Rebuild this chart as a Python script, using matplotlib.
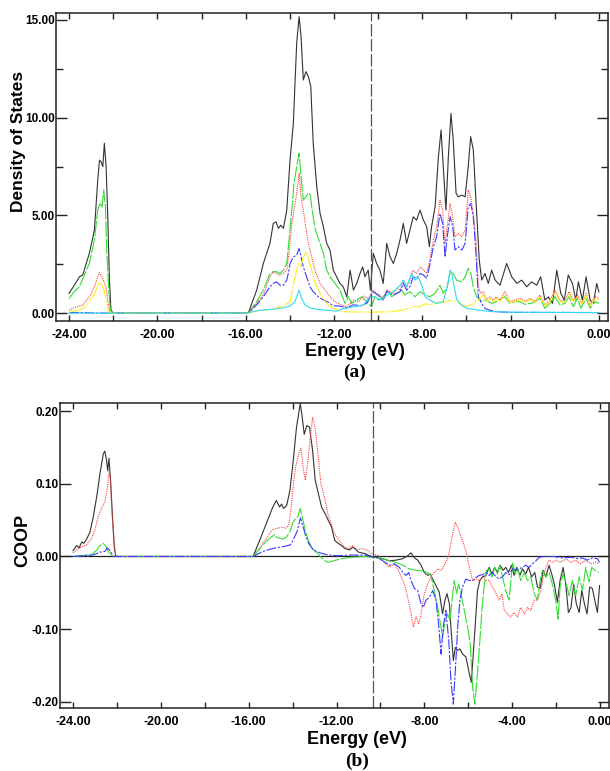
import matplotlib
matplotlib.use("Agg")
import matplotlib.pyplot as plt
from matplotlib.ticker import MultipleLocator, FormatStrFormatter

# ---------------------------------------------------------------------------
# Data, (energy in eV, value) pairs
# ---------------------------------------------------------------------------
fermi_level = -10.32

# (a) density of states
dos_total = [
    (-24.0, 1.01), (-23.76, 1.43), (-23.53, 1.86), (-23.38, 1.95), (-23.08, 3.06), (-22.85, 4.25),
    (-22.70, 6.81), (-22.62, 7.83), (-22.55, 7.75), (-22.47, 7.49), (-22.40, 8.69), (-22.32, 7.49),
    (-22.25, 5.10), (-22.17, 1.70), (-22.10, 0.15), (-22.0, 0.0), (-16.0, 0.0), (-15.88, 0.0),
    (-15.5, 1.18), (-15.2, 2.54), (-14.9, 3.57), (-14.75, 4.59), (-14.62, 4.67), (-14.52, 4.34),
    (-14.41, 4.50), (-14.29, 4.34), (-14.14, 5.27), (-13.99, 7.83), (-13.84, 9.71), (-13.69, 13.8),
    (-13.58, 15.17), (-13.49, 14.15), (-13.39, 11.93), (-13.27, 12.36), (-13.16, 12.10), (-13.05, 11.59),
    (-12.94, 8.69), (-12.78, 6.47), (-12.63, 5.10), (-12.48, 4.42), (-12.33, 3.57), (-12.18, 3.23),
    (-12.03, 2.20), (-11.88, 1.86), (-11.73, 1.52), (-11.58, 1.35), (-11.42, 0.83), (-11.27, 2.20),
    (-11.12, 1.18), (-10.97, 1.52), (-10.82, 2.03), (-10.70, 2.37), (-10.60, 1.86), (-10.45, 2.20),
    (-10.35, 1.18), (-10.22, 3.06), (-10.07, 2.54), (-9.92, 2.20), (-9.77, 1.52), (-9.61, 3.57),
    (-9.46, 2.88), (-9.31, 2.54), (-9.16, 3.06), (-9.01, 3.74), (-8.86, 4.59), (-8.71, 3.57),
    (-8.56, 4.25), (-8.41, 4.93), (-8.26, 4.76), (-8.10, 5.27), (-7.95, 4.76), (-7.80, 4.42),
    (-7.68, 3.40), (-7.58, 4.42), (-7.42, 5.44), (-7.27, 8.00), (-7.15, 9.37), (-7.05, 7.49),
    (-6.93, 5.27), (-6.82, 8.00), (-6.70, 10.22), (-6.60, 8.86), (-6.47, 6.13), (-6.37, 5.95),
    (-6.21, 6.04), (-6.06, 5.95), (-5.92, 7.49), (-5.81, 9.03), (-5.69, 8.35), (-5.57, 5.78),
    (-5.42, 2.71), (-5.31, 1.69), (-5.16, 2.03), (-5.01, 1.52), (-4.86, 2.20), (-4.70, 1.69),
    (-4.48, 1.43), (-4.18, 2.54), (-3.95, 1.86), (-3.72, 1.52), (-3.50, 1.69), (-3.27, 1.35),
    (-3.05, 1.60), (-2.82, 1.43), (-2.64, 1.86), (-2.45, 0.67), (-2.29, 0.83), (-2.10, 0.50),
    (-1.91, 2.20), (-1.73, 1.02), (-1.57, 0.67), (-1.39, 1.95), (-1.20, 1.52), (-1.05, 0.67),
    (-0.93, 1.60), (-0.75, 0.67), (-0.58, 1.86), (-0.40, 0.67), (-0.25, 0.50), (-0.10, 1.52),
    (0.0, 1.09),
]
dos_green = [
    (-24.0, 0.75), (-23.76, 1.10), (-23.53, 1.35), (-23.08, 2.54), (-22.85, 3.74), (-22.70, 5.27),
    (-22.60, 5.63), (-22.50, 5.44), (-22.43, 6.30), (-22.35, 5.44), (-22.30, 3.40), (-22.20, 1.18),
    (-22.13, 0.15), (-22.0, 0.0), (-16.0, 0.0), (-15.88, 0.0), (-15.5, 0.60), (-15.2, 1.18),
    (-14.9, 2.03), (-14.75, 2.12), (-14.6, 2.12), (-14.45, 2.03), (-14.29, 2.20), (-14.14, 2.54),
    (-14.02, 3.91), (-13.91, 5.27), (-13.81, 6.64), (-13.69, 7.49), (-13.58, 8.18), (-13.49, 6.98),
    (-13.39, 5.78), (-13.27, 5.95), (-13.16, 6.16), (-13.07, 6.04), (-12.99, 5.27), (-12.84, 4.25),
    (-12.63, 3.57), (-12.48, 3.06), (-12.33, 2.20), (-12.18, 1.86), (-11.95, 1.52), (-11.73, 1.18),
    (-11.5, 0.50), (-11.35, 0.84), (-11.2, 0.50), (-10.97, 0.67), (-10.75, 0.84), (-10.52, 0.60),
    (-10.3, 0.33), (-10.15, 0.84), (-10.0, 0.67), (-9.77, 0.84), (-9.54, 1.18), (-9.39, 0.84),
    (-9.16, 1.01), (-8.93, 1.18), (-8.78, 0.93), (-8.56, 1.10), (-8.33, 0.84), (-8.1, 1.10),
    (-7.87, 0.93), (-7.66, 0.84), (-7.42, 1.01), (-7.2, 1.43), (-7.05, 1.01), (-6.87, 1.35),
    (-6.74, 2.10), (-6.6, 2.03), (-6.45, 1.69), (-6.21, 1.60), (-6.06, 1.86), (-5.92, 2.29),
    (-5.8, 2.03), (-5.69, 1.35), (-5.54, 0.84), (-5.31, 0.60), (-5.1, 0.67), (-4.86, 0.50),
    (-4.64, 0.60), (-4.26, 0.84), (-4.03, 0.50), (-3.8, 0.60), (-3.57, 0.58), (-3.35, 0.45),
    (-3.12, 0.50), (-2.9, 0.55), (-2.67, 0.76), (-2.45, 0.25), (-2.22, 0.50), (-1.99, 0.84),
    (-1.76, 0.42), (-1.54, 0.50), (-1.36, 0.84), (-1.16, 0.33), (-0.97, 0.76), (-0.82, 0.25),
    (-0.58, 0.76), (-0.4, 0.25), (-0.17, 0.58), (0.0, 0.50),
]
dos_red = [
    (-24.0, 0.15), (-23.68, 0.32), (-23.38, 0.41), (-23.08, 0.83), (-22.85, 1.35), (-22.70, 1.86),
    (-22.62, 2.07), (-22.50, 1.86), (-22.40, 1.55), (-22.32, 1.35), (-22.25, 0.67), (-22.15, 0.10),
    (-22.0, 0.0), (-16.0, 0.0), (-15.88, 0.0), (-15.5, 0.50), (-15.2, 0.93), (-14.9, 1.86),
    (-14.75, 2.12), (-14.6, 2.03), (-14.45, 1.95), (-14.29, 2.03), (-14.14, 2.20), (-14.02, 3.23),
    (-13.91, 4.59), (-13.81, 5.27), (-13.69, 6.13), (-13.58, 7.15), (-13.49, 5.95), (-13.39, 5.27),
    (-13.28, 4.42), (-13.16, 3.57), (-13.01, 2.88), (-12.86, 2.20), (-12.63, 1.52), (-12.4, 1.18),
    (-12.18, 0.84), (-11.95, 0.58), (-11.65, 0.41), (-11.42, 0.33), (-11.12, 0.67), (-10.9, 0.58),
    (-10.67, 0.87), (-10.45, 0.75), (-10.22, 1.18), (-10.07, 1.01), (-9.92, 0.93), (-9.77, 0.67),
    (-9.61, 1.18), (-9.46, 1.10), (-9.31, 1.01), (-9.16, 1.26), (-9.0, 1.18), (-8.86, 1.69),
    (-8.71, 1.35), (-8.56, 1.69), (-8.41, 2.20), (-8.26, 2.03), (-8.1, 2.37), (-7.95, 2.20),
    (-7.8, 2.03), (-7.66, 2.71), (-7.5, 3.74), (-7.35, 4.42), (-7.2, 5.78), (-7.08, 5.27),
    (-6.97, 3.57), (-6.85, 4.59), (-6.74, 5.61), (-6.62, 4.93), (-6.52, 3.91), (-6.37, 4.08),
    (-6.21, 3.91), (-6.06, 4.25), (-5.92, 6.30), (-5.81, 5.95), (-5.69, 5.10), (-5.57, 3.74),
    (-5.46, 1.35), (-5.36, 1.01), (-5.24, 1.10), (-5.1, 0.67), (-4.94, 0.84), (-4.8, 0.67),
    (-4.64, 0.84), (-4.48, 0.67), (-4.26, 1.10), (-4.03, 0.60), (-3.8, 0.67), (-3.57, 0.76),
    (-3.35, 0.60), (-3.12, 0.76), (-2.9, 0.60), (-2.67, 0.93), (-2.45, 0.42), (-2.22, 0.67),
    (-1.99, 1.18), (-1.76, 0.67), (-1.54, 0.60), (-1.36, 1.10), (-1.16, 0.67), (-0.97, 0.93),
    (-0.78, 0.50), (-0.58, 1.01), (-0.4, 0.42), (-0.17, 0.84), (0.0, 0.76),
]
dos_blue = [
    (-24.0, 0.03), (-23.4, 0.03), (-23.0, 0.01), (-22.2, 0.0), (-16.0, 0.0), (-15.88, 0.0),
    (-15.5, 0.43), (-15.2, 0.84), (-14.9, 1.35), (-14.75, 1.52), (-14.6, 1.60), (-14.45, 1.43),
    (-14.29, 1.43), (-14.14, 1.69), (-14.07, 2.03), (-13.99, 2.54), (-13.84, 2.88), (-13.69, 2.97),
    (-13.58, 3.31), (-13.49, 2.88), (-13.39, 2.37), (-13.24, 1.86), (-13.09, 1.35), (-12.94, 1.10),
    (-12.71, 0.84), (-12.48, 0.67), (-12.25, 0.55), (-12.03, 0.38), (-11.73, 0.36), (-11.42, 0.27),
    (-11.12, 0.43), (-10.82, 0.38), (-10.52, 0.50), (-10.22, 1.10), (-9.92, 0.84), (-9.77, 0.67),
    (-9.61, 1.10), (-9.31, 0.93), (-9.0, 1.10), (-8.86, 1.52), (-8.71, 1.18), (-8.56, 1.35),
    (-8.41, 1.86), (-8.26, 1.78), (-8.1, 2.03), (-7.95, 1.95), (-7.8, 1.78), (-7.66, 2.46),
    (-7.5, 3.40), (-7.35, 3.91), (-7.2, 5.10), (-7.08, 4.59), (-6.97, 2.88), (-6.85, 4.08),
    (-6.74, 4.93), (-6.62, 4.42), (-6.52, 3.23), (-6.37, 3.40), (-6.21, 3.23), (-6.06, 3.57),
    (-5.92, 5.44), (-5.81, 5.61), (-5.69, 4.93), (-5.57, 3.06), (-5.46, 0.84), (-5.31, 0.50),
    (-5.16, 0.24), (-4.94, 0.15), (-4.64, 0.07), (-4.0, 0.04), (0.0, 0.03),
]
dos_yellow = [
    (-24.0, 0.05), (-23.38, 0.22), (-23.08, 0.58), (-22.85, 0.98), (-22.70, 1.40), (-22.62, 1.60),
    (-22.50, 1.40), (-22.40, 1.15), (-22.30, 0.50), (-22.17, 0.0), (-16.0, 0.0), (-15.88, 0.0),
    (-15.35, 0.15), (-14.75, 0.20), (-14.29, 0.36), (-13.99, 0.60), (-13.76, 1.86), (-13.61, 2.54),
    (-13.49, 2.37), (-13.39, 2.88), (-13.24, 3.14), (-13.09, 2.54), (-12.94, 1.86), (-12.78, 1.35),
    (-12.55, 0.84), (-12.33, 0.50), (-12.03, 0.24), (-11.58, 0.07), (-10.5, 0.05), (-9.5, 0.07),
    (-8.86, 0.15), (-8.41, 0.33), (-8.1, 0.33), (-7.87, 0.48), (-7.66, 0.42), (-7.2, 0.58),
    (-7.0, 0.53), (-6.74, 0.67), (-6.52, 0.60), (-6.3, 0.48), (-5.99, 0.33), (-5.69, 0.50),
    (-5.46, 0.67), (-5.24, 0.95), (-5.1, 0.60), (-4.94, 0.75), (-4.8, 0.60), (-4.64, 0.75),
    (-4.48, 0.60), (-4.26, 1.00), (-4.03, 0.55), (-3.8, 0.60), (-3.57, 0.70), (-3.35, 0.55),
    (-3.12, 0.70), (-2.9, 0.55), (-2.67, 0.85), (-2.45, 0.38), (-2.22, 0.60), (-1.99, 1.08),
    (-1.76, 0.60), (-1.54, 0.55), (-1.36, 1.00), (-1.16, 0.60), (-0.97, 0.85), (-0.78, 0.45),
    (-0.58, 0.92), (-0.4, 0.38), (-0.17, 0.75), (0.0, 0.70),
]
dos_cyan = [
    (-24.0, 0.0), (-16.0, 0.0), (-15.35, 0.15), (-14.75, 0.20), (-14.29, 0.27), (-13.99, 0.36),
    (-13.76, 0.60), (-13.58, 1.19), (-13.47, 0.77), (-13.32, 0.43), (-13.09, 0.27), (-12.78, 0.20),
    (-12.33, 0.15), (-11.88, 0.10), (-11.58, 0.24), (-11.2, 0.30), (-10.67, 0.41), (-10.37, 0.84),
    (-10.15, 0.84), (-9.92, 0.67), (-9.7, 0.84), (-9.46, 1.01), (-9.23, 1.18), (-9.0, 1.43),
    (-8.86, 1.69), (-8.71, 1.35), (-8.48, 2.03), (-8.33, 1.69), (-8.18, 1.86), (-8.03, 1.43),
    (-7.87, 0.84), (-7.66, 0.67), (-7.35, 0.50), (-7.05, 0.58), (-6.87, 1.35), (-6.74, 2.20),
    (-6.67, 2.03), (-6.56, 1.35), (-6.43, 0.67), (-6.23, 0.42), (-6.0, 0.25), (-5.54, 0.17),
    (-4.94, 0.08), (-4.0, 0.05), (0.0, 0.03),
]

# (b) crystal orbital overlap population
coop_total = [
    (-24.0, 0.008), (-23.83, 0.015), (-23.72, 0.012), (-23.6, 0.020), (-23.5, 0.018), (-23.38, 0.024),
    (-23.23, 0.033), (-23.08, 0.054), (-22.92, 0.082), (-22.77, 0.114), (-22.62, 0.141), (-22.55, 0.145),
    (-22.47, 0.132), (-22.42, 0.118), (-22.36, 0.135), (-22.28, 0.100), (-22.2, 0.054), (-22.12, 0.013),
    (-22.05, 0.0), (-15.8, 0.0), (-15.5, 0.022), (-15.2, 0.045), (-14.9, 0.068), (-14.74, 0.077),
    (-14.59, 0.068), (-14.5, 0.072), (-14.41, 0.066), (-14.27, 0.070), (-14.12, 0.091), (-13.97, 0.132),
    (-13.82, 0.178), (-13.65, 0.210), (-13.58, 0.196), (-13.47, 0.168), (-13.35, 0.180), (-13.23, 0.178),
    (-13.09, 0.146), (-12.97, 0.105), (-12.83, 0.087), (-12.68, 0.068), (-12.52, 0.059), (-12.38, 0.050),
    (-12.23, 0.041), (-12.08, 0.022), (-11.92, 0.018), (-11.77, 0.015), (-11.62, 0.011), (-11.4, 0.009),
    (-11.25, 0.013), (-11.0, 0.006), (-10.71, 0.004), (-10.41, 0.0), (-10.1, -0.002), (-9.89, -0.003),
    (-9.59, -0.006), (-9.29, -0.005), (-8.98, -0.003), (-8.76, 0.001), (-8.61, 0.005), (-8.45, -0.002),
    (-8.3, -0.005), (-8.15, -0.012), (-8.0, -0.022), (-7.85, -0.026), (-7.73, -0.024), (-7.59, -0.033),
    (-7.47, -0.040), (-7.32, -0.049), (-7.17, -0.079), (-7.06, -0.060), (-6.97, -0.051), (-6.86, -0.065),
    (-6.79, -0.097), (-6.68, -0.143), (-6.59, -0.125), (-6.48, -0.129), (-6.38, -0.127), (-6.26, -0.134),
    (-6.11, -0.138), (-5.95, -0.161), (-5.86, -0.173), (-5.77, -0.134), (-5.68, -0.093), (-5.58, -0.047),
    (-5.47, -0.033), (-5.35, -0.028), (-5.2, -0.026), (-5.05, -0.015), (-4.92, -0.024), (-4.8, -0.015),
    (-4.67, -0.022), (-4.55, -0.012), (-4.41, -0.019), (-4.29, -0.015), (-4.17, -0.022), (-4.03, -0.012),
    (-3.91, -0.026), (-3.79, -0.015), (-3.65, -0.026), (-3.53, -0.017), (-3.38, -0.024), (-3.26, -0.015),
    (-3.11, -0.028), (-2.97, -0.022), (-2.85, -0.042), (-2.73, -0.044), (-2.59, -0.019), (-2.47, -0.028),
    (-2.32, -0.012), (-2.2, -0.024), (-2.08, -0.038), (-1.94, -0.063), (-1.82, -0.033), (-1.68, -0.015),
    (-1.56, -0.038), (-1.44, -0.077), (-1.32, -0.070), (-1.2, -0.038), (-1.08, -0.065), (-0.95, -0.077),
    (-0.83, -0.047), (-0.71, -0.065), (-0.59, -0.079), (-0.47, -0.042), (-0.35, -0.044), (-0.24, -0.060),
    (-0.12, -0.077), (-0.02, -0.040),
]
coop_red = [
    (-24.0, 0.005), (-23.7, 0.012), (-23.38, 0.016), (-23.15, 0.025), (-23.0, 0.037), (-22.85, 0.055),
    (-22.7, 0.066), (-22.55, 0.075), (-22.44, 0.093), (-22.35, 0.118), (-22.3, 0.110), (-22.23, 0.063),
    (-22.12, 0.018), (-22.05, 0.0), (-15.8, 0.0), (-15.5, 0.011), (-15.2, 0.025), (-14.9, 0.037),
    (-14.67, 0.039), (-14.5, 0.040), (-14.3, 0.039), (-14.18, 0.043), (-14.08, 0.062), (-13.97, 0.098),
    (-13.87, 0.122), (-13.73, 0.140), (-13.62, 0.149), (-13.52, 0.122), (-13.42, 0.105), (-13.32, 0.126),
    (-13.2, 0.163), (-13.09, 0.191), (-12.98, 0.178), (-12.86, 0.146), (-12.71, 0.100), (-12.55, 0.082),
    (-12.4, 0.059), (-12.25, 0.046), (-12.1, 0.032), (-11.87, 0.022), (-11.65, 0.013), (-11.43, 0.011),
    (-11.28, 0.015), (-11.05, 0.009), (-10.83, 0.011), (-10.6, 0.009), (-10.41, 0.004), (-10.1, 0.001),
    (-9.89, -0.006), (-9.59, -0.015), (-9.36, -0.010), (-9.14, -0.022), (-8.91, -0.038), (-8.76, -0.056),
    (-8.61, -0.077), (-8.5, -0.097), (-8.38, -0.083), (-8.26, -0.093), (-8.15, -0.079), (-8.0, -0.051),
    (-7.85, -0.038), (-7.7, -0.028), (-7.55, -0.022), (-7.39, -0.017), (-7.24, -0.019), (-7.09, -0.012),
    (-6.94, -0.003), (-6.82, 0.013), (-6.71, 0.031), (-6.59, 0.047), (-6.48, 0.040), (-6.33, 0.027),
    (-6.11, 0.008), (-5.95, -0.015), (-5.8, -0.033), (-5.65, -0.031), (-5.5, -0.033), (-5.35, -0.028),
    (-5.2, -0.033), (-5.05, -0.033), (-4.89, -0.042), (-4.74, -0.051), (-4.59, -0.060), (-4.47, -0.051),
    (-4.36, -0.074), (-4.21, -0.079), (-4.06, -0.083), (-3.91, -0.077), (-3.76, -0.083), (-3.61, -0.070),
    (-3.45, -0.079), (-3.3, -0.070), (-3.15, -0.074), (-3.0, -0.060), (-2.85, -0.060), (-2.7, -0.047),
    (-2.58, -0.028), (-2.47, -0.015), (-2.32, -0.005), (-2.17, -0.008), (-2.02, -0.005), (-1.79, -0.008),
    (-1.56, -0.003), (-1.33, -0.008), (-1.11, -0.005), (-0.88, -0.010), (-0.65, -0.005), (-0.42, -0.010),
    (-0.2, -0.008), (-0.05, -0.010),
]
coop_green = [
    (-24.0, 0.0), (-23.38, 0.002), (-23.08, 0.004), (-22.92, 0.009), (-22.77, 0.015), (-22.62, 0.018),
    (-22.5, 0.014), (-22.4, 0.007), (-22.25, 0.002), (-22.1, 0.0), (-15.8, 0.0), (-15.35, 0.016),
    (-15.05, 0.025), (-14.82, 0.030), (-14.7, 0.026), (-14.59, 0.025), (-14.44, 0.024), (-14.27, 0.027),
    (-14.12, 0.034), (-13.97, 0.048), (-13.76, 0.055), (-13.65, 0.066), (-13.55, 0.053), (-13.42, 0.035),
    (-13.27, 0.021), (-13.12, 0.011), (-12.89, 0.005), (-12.67, -0.002), (-12.52, -0.006), (-12.38, -0.008),
    (-12.15, -0.006), (-11.77, -0.003), (-11.32, -0.001), (-10.7, 0.0), (-10.05, -0.002), (-9.59, -0.006),
    (-9.29, -0.008), (-8.98, -0.012), (-8.68, -0.017), (-8.38, -0.019), (-8.08, -0.020), (-7.85, -0.022),
    (-7.7, -0.026), (-7.55, -0.047), (-7.39, -0.070), (-7.24, -0.097), (-7.17, -0.111), (-7.05, -0.088),
    (-6.94, -0.079), (-6.83, -0.088), (-6.74, -0.060), (-6.64, -0.033), (-6.53, -0.051), (-6.44, -0.038),
    (-6.33, -0.051), (-6.18, -0.074), (-6.03, -0.097), (-5.91, -0.120), (-5.8, -0.180), (-5.7, -0.203),
    (-5.58, -0.161), (-5.47, -0.115), (-5.38, -0.074), (-5.27, -0.038), (-5.17, -0.019), (-5.05, -0.017),
    (-4.92, -0.028), (-4.8, -0.015), (-4.67, -0.024), (-4.56, -0.012), (-4.44, -0.028), (-4.29, -0.047),
    (-4.14, -0.060), (-3.98, -0.008), (-3.86, -0.024), (-3.76, -0.015), (-3.61, -0.033), (-3.45, -0.022),
    (-3.3, -0.033), (-3.15, -0.028), (-3.0, -0.051), (-2.85, -0.060), (-2.73, -0.033), (-2.62, -0.019),
    (-2.47, -0.028), (-2.32, -0.022), (-2.17, -0.038), (-2.02, -0.060), (-1.91, -0.086), (-1.82, -0.042),
    (-1.68, -0.024), (-1.53, -0.038), (-1.41, -0.054), (-1.26, -0.033), (-1.11, -0.054), (-0.95, -0.028),
    (-0.8, -0.047), (-0.65, -0.015), (-0.5, -0.035), (-0.38, -0.015), (-0.23, -0.019), (-0.05, -0.022),
]
coop_blue = [
    (-24.0, 0.0), (-23.08, 0.002), (-22.77, 0.006), (-22.55, 0.007), (-22.44, 0.012), (-22.3, 0.008),
    (-22.15, 0.0), (-15.8, 0.0), (-15.35, 0.007), (-14.9, 0.011), (-14.36, 0.014), (-14.1, 0.016),
    (-13.97, 0.023), (-13.8, 0.034), (-13.64, 0.053), (-13.55, 0.044), (-13.42, 0.030), (-13.27, 0.018),
    (-13.05, 0.009), (-12.75, 0.005), (-12.38, 0.002), (-11.92, 0.001), (-11.32, 0.002), (-10.7, 0.002),
    (-10.41, 0.0), (-10.1, -0.002), (-9.89, -0.006), (-9.59, -0.012), (-9.36, -0.010), (-9.14, -0.015),
    (-8.98, -0.022), (-8.83, -0.026), (-8.71, -0.022), (-8.61, -0.033), (-8.45, -0.044), (-8.3, -0.047),
    (-8.15, -0.065), (-8.05, -0.070), (-7.92, -0.060), (-7.77, -0.056), (-7.62, -0.047), (-7.47, -0.060),
    (-7.35, -0.093), (-7.24, -0.134), (-7.14, -0.097), (-7.02, -0.074), (-6.89, -0.115), (-6.79, -0.170),
    (-6.68, -0.203), (-6.59, -0.157), (-6.48, -0.097), (-6.38, -0.060), (-6.26, -0.042), (-6.11, -0.031),
    (-5.95, -0.033), (-5.8, -0.033), (-5.65, -0.029), (-5.5, -0.026), (-5.35, -0.025), (-5.2, -0.022),
    (-5.05, -0.026), (-4.89, -0.022), (-4.74, -0.028), (-4.59, -0.031), (-4.44, -0.028), (-4.29, -0.022),
    (-4.14, -0.025), (-3.98, -0.017), (-3.83, -0.019), (-3.68, -0.017), (-3.53, -0.015), (-3.38, -0.012),
    (-3.23, -0.015), (-3.08, -0.010), (-2.92, -0.006), (-2.77, -0.001), (-2.55, 0.0), (-2.1, 0.0),
    (-1.71, -0.002), (-1.3, -0.001), (-1.03, -0.003), (-0.8, -0.002), (-0.58, -0.005), (-0.35, -0.002),
    (-0.12, -0.003), (-0.02, -0.008),
]

x_ticks = [-24, -20, -16, -12, -8, -4, 0]

# colours and line styles of the curves
c_black, c_green, c_red, c_blue = "#333333", "#33dd33", "#ff3b3b", "#3a3aff"
c_yellow, c_cyan = "#ffee1a", "#2fdcf0"
ls_green = (0, (14, 1.5))
ls_red = (0, (1, 1))
ls_blue = (0, (9, 1.5, 2, 1.5))
ls_yellow = (0, (16, 1.5, 2, 1.5))

plt.rcParams["font.family"] = ["Liberation Sans", "DejaVu Sans"]
plt.rcParams["font.weight"] = "bold"

fig = plt.figure(figsize=(6.10, 7.71), dpi=100)
ax1 = fig.add_axes([0.0918, 0.5837, 0.9049, 0.3995])
ax2 = fig.add_axes([0.0984, 0.0817, 0.9000, 0.3956])


def draw(ax, pairs, color, ls="-"):
    e, v = zip(*pairs)
    ax.plot(e, v, color=color, linestyle=ls, linewidth=0.8)


# panel (a)
draw(ax1, dos_total, c_black)
draw(ax1, dos_green, c_green, ls_green)
draw(ax1, dos_red, c_red, ls_red)
draw(ax1, dos_blue, c_blue, ls_blue)
draw(ax1, dos_yellow, c_yellow, ls_yellow)
draw(ax1, dos_cyan, c_cyan)
ax1.set_ylim(-0.4, 15.36)
ax1.yaxis.set_major_locator(MultipleLocator(5))
ax1.yaxis.set_minor_locator(MultipleLocator(2.5))

# panel (b)
ax2.axhline(0, color="#222222", linewidth=0.9)
draw(ax2, coop_total, c_black)
draw(ax2, coop_red, c_red, ls_red)
draw(ax2, coop_green, c_green, ls_green)
draw(ax2, coop_blue, c_blue, ls_blue)
ax2.set_ylim(-0.2083, 0.211)
ax2.set_yticks([-0.2, -0.1, 0.0, 0.1, 0.2])

for ax in (ax1, ax2):
    ax.axvline(fermi_level, color="#555555", linewidth=0.9, linestyle=(0, (10, 2)))
    ax.set_xlim(-24.59, 0.41)
    ax.set_xticks(x_ticks)
    ax.xaxis.set_minor_locator(MultipleLocator(2))
    ax.xaxis.set_major_formatter(FormatStrFormatter("%.2f"))
    ax.yaxis.set_major_formatter(FormatStrFormatter("%.2f"))
    ax.tick_params(which="both", direction="in", top=True, right=True, width=1.0, color="#222222")
    ax.tick_params(axis="x", which="both", length=4.3, pad=5.5, labelsize=9)
    ax.tick_params(axis="y", which="major", length=8, pad=1, labelsize=8.5)
    ax.tick_params(axis="y", which="minor", length=5)
    for lab in ax.get_xticklabels() + ax.get_yticklabels():
        lab.set_fontweight("bold")
    for sp in ax.spines.values():
        sp.set_linewidth(1.1)
        sp.set_color("#222222")

# axis titles and panel letters
fig.text(0.582, 0.5447, "Energy (eV)", ha="center", va="center", fontsize=13, fontweight="bold")
fig.text(0.582, 0.5175, "(a)", ha="center", va="center", fontsize=14, fontweight="bold",
         family="Liberation Serif")
fig.text(0.030, 0.817, "Density of States", rotation=90, ha="center", va="center",
         fontsize=12.5, fontweight="bold")
fig.text(0.585, 0.0415, "Energy (eV)", ha="center", va="center", fontsize=13, fontweight="bold")
fig.text(0.585, 0.0125, "(b)", ha="center", va="center", fontsize=14, fontweight="bold",
         family="Liberation Serif")
fig.text(0.037, 0.2996, "COOP", rotation=90, ha="center", va="center", fontsize=13, fontweight="bold")

fig.savefig("out.png", dpi=100)
